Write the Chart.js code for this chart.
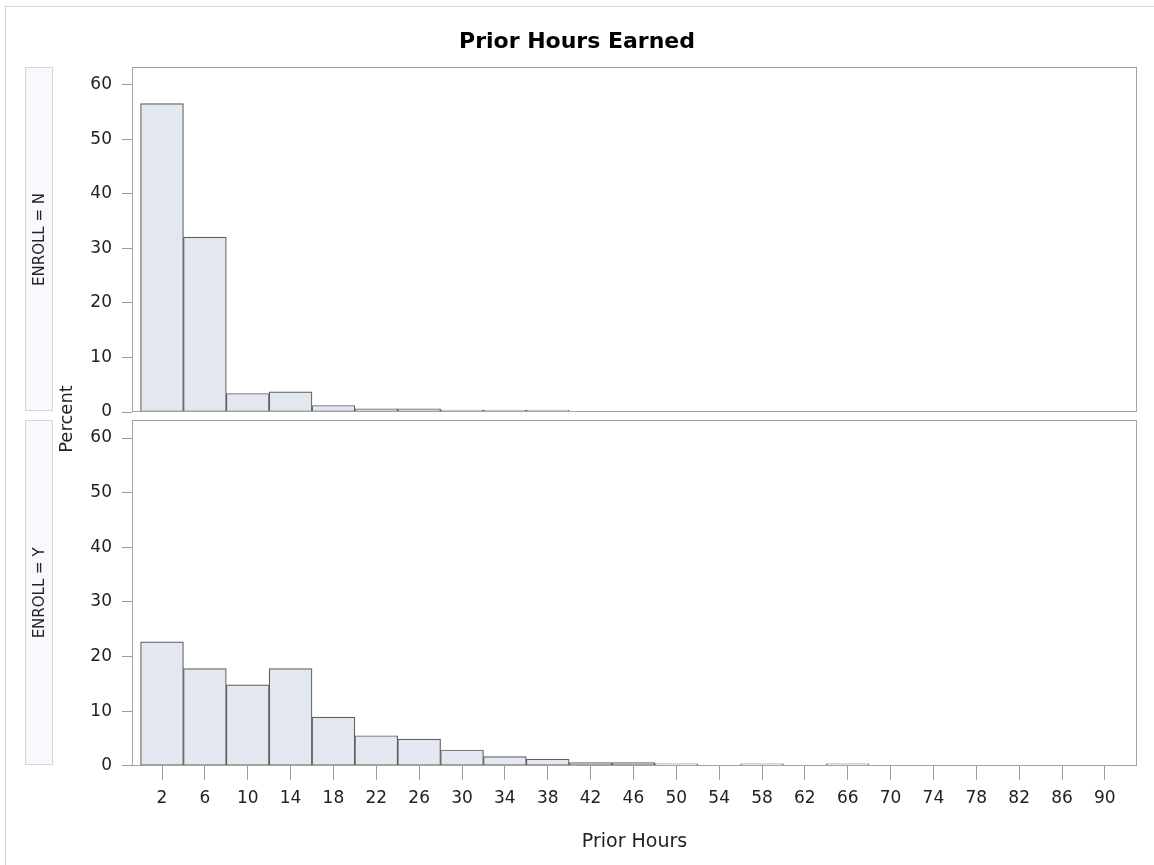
<!DOCTYPE html>
<html>
<head>
<meta charset="utf-8">
<title>Prior Hours Earned</title>
<script src="https://cdn.jsdelivr.net/npm/chart.js@4.4.1/dist/chart.umd.min.js"></script>
<style>
  html, body { margin: 0; padding: 0; background: #fff; overflow: hidden; }
  #page { position: relative; width: 1154px; height: 865px; overflow: hidden; }
  #frame { position: absolute; left: 5px; top: 6px; width: 1200px; height: 900px;
           border-left: 1px solid #d6d6d6; border-top: 1px solid #d6d6d6; }
  .layer { position: absolute; left: 0; top: 0; width: 1154px; height: 865px; }
</style>
</head>
<body>
<div id="page">
  <div id="frame"></div>
  <div class="layer"><canvas id="chartN"></canvas></div>
  <div class="layer"><canvas id="chartY"></canvas></div>
</div>
<script>
// bin midpoints (Prior Hours), bin width 4
const categories = [2, 6, 10, 14, 18, 22, 26, 30, 34, 38, 42, 46, 50, 54, 58, 62, 66, 70, 74, 78, 82, 86, 90];
// percent per bin, ENROLL = N
const enrollN = [56.6, 32.1, 3.4, 3.7, 1.2, 0.6, 0.6, 0.3, 0.3, 0.3, 0, 0, 0, 0, 0, 0, 0, 0, 0, 0, 0, 0, 0];
// percent per bin, ENROLL = Y
const enrollY = [22.7, 17.8, 14.8, 17.8, 8.9, 5.5, 4.9, 2.9, 1.7, 1.2, 0.6, 0.6, 0.3, 0, 0.3, 0, 0.3, 0, 0, 0, 0, 0, 0];
const yTicks = [0, 10, 20, 30, 40, 50, 60];
const stripLabels = ['ENROLL = N', 'ENROLL = Y'];

Chart.defaults.font.family = "'DejaVu Sans', Verdana, sans-serif";
Chart.defaults.color = '#222';

const FRAME = '#a3a3a3';
const TICK = '#9c9c9c';

// panel frame, strip label box on the left, shared "Percent" label
const panelDeco = {
  id: 'panelDeco',
  afterDraw(chart, args, opts) {
    const {ctx, chartArea: a} = chart;
    ctx.save();
    // strip
    const sx = 25.5, sw = 27;
    ctx.fillStyle = '#f8f9fd';
    ctx.fillRect(sx, a.top, sw, a.bottom - a.top - 1);
    ctx.strokeStyle = '#d6d6d6';
    ctx.lineWidth = 1;
    ctx.strokeRect(sx, Math.round(a.top) + 0.5, sw, Math.round(a.bottom - a.top) - 2);
    ctx.fillStyle = '#222';
    ctx.font = "15px 'DejaVu Sans'";
    ctx.textAlign = 'center';
    ctx.textBaseline = 'middle';
    ctx.translate(sx + sw / 2 + 1, (a.top + a.bottom) / 2);
    ctx.rotate(-Math.PI / 2);
    ctx.fillText(opts.strip, 0, 0);
    ctx.restore();

    // frame around plot area
    ctx.save();
    ctx.strokeStyle = FRAME;
    ctx.lineWidth = 1;
    ctx.strokeRect(Math.round(a.left) + 0.5, Math.round(a.top) + 0.5,
      Math.round(a.right - a.left) - 1, Math.round(a.bottom - a.top) - 1);
    ctx.restore();

    if (opts.percent) {
      ctx.save();
      ctx.fillStyle = '#222';
      ctx.font = "18px 'DejaVu Sans'";
      ctx.textAlign = 'center';
      ctx.textBaseline = 'middle';
      ctx.translate(67, 419);
      ctx.rotate(-Math.PI / 2);
      ctx.fillText('Percent', 0, 0);
      ctx.restore();
    }
  }
};

function makePanel(id, values, strip, isBottom) {
  return new Chart(document.getElementById(id), {
    type: 'bar',
    data: {
      datasets: [{
        data: categories.map((c, i) => ({x: c, y: values[i] || null})),
        backgroundColor: '#e3e7f0',
        borderColor: '#5e5e5e',
        borderWidth: 1.2,
        borderSkipped: false,
        minBarLength: 2,
        barPercentage: 1,
        categoryPercentage: 1,
        grouped: false
      }]
    },
    options: {
      responsive: true,
      maintainAspectRatio: false,
      animation: false,
      layout: {
        padding: isBottom
          ? {top: 420, left: 17, right: 17, bottom: 5}
          : {top: 0, left: 17, right: 17, bottom: 453}
      },
      plugins: {
        legend: {display: false},
        tooltip: {enabled: false},
        title: {
          display: !isBottom,
          text: 'Prior Hours Earned',
          color: '#000',
          font: {size: 22, weight: 'bold'},
          padding: {top: 29, bottom: 11.6}
        },
        panelDeco: {strip: strip, percent: isBottom}
      },
      scales: {
        x: {
          type: 'linear',
          display: isBottom,
          offset: false,
          min: -0.8,
          max: 93,
          afterBuildTicks: s => { s.ticks = categories.map(v => ({value: v})); },
          ticks: {autoSkip: false, maxRotation: 0, padding: 9, font: {size: 17}, color: '#222'},
          grid: {offset: false, drawOnChartArea: false, drawTicks: true, tickLength: 14, color: TICK},
          border: {display: false},
          title: {display: true, text: 'Prior Hours', font: {size: 19}, color: '#222',
            padding: {top: 12, bottom: 7}}
        },
        y: {
          min: 0,
          max: 63.3,
          afterBuildTicks: s => { s.ticks = yTicks.map(v => ({value: v})); },
          afterFit: s => { s.width = 115; },
          ticks: {padding: 10, font: {size: 17}, color: '#222'},
          grid: {drawOnChartArea: false, drawTicks: true, tickLength: 10, color: TICK},
          border: {display: false}
        }
      }
    },
    plugins: [panelDeco]
  });
}

makePanel('chartN', enrollN, stripLabels[0], false);
makePanel('chartY', enrollY, stripLabels[1], true);
</script>
</body>
</html>
